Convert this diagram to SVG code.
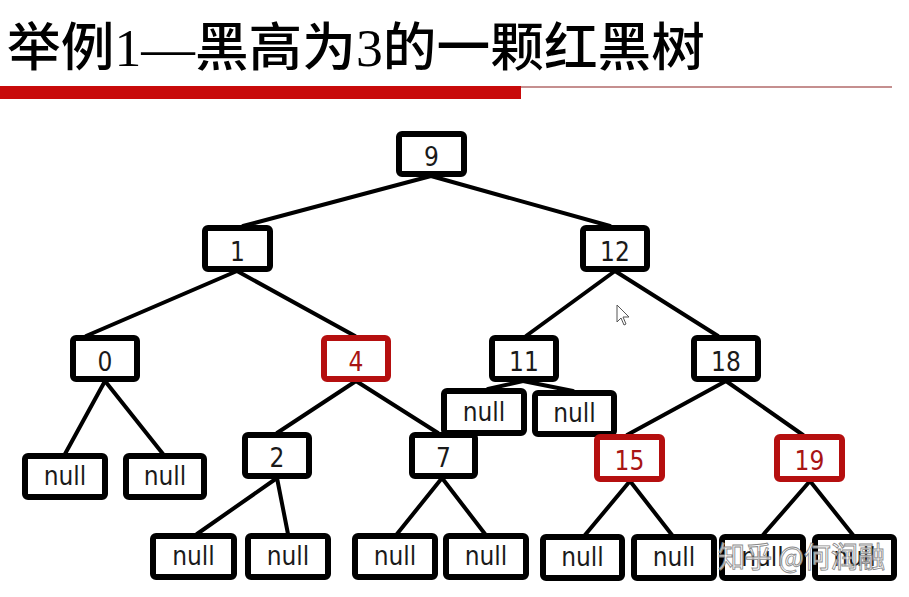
<svg xmlns="http://www.w3.org/2000/svg" width="909" height="597" viewBox="0 0 909 597">
<style>
.b{fill:#fff;stroke:#000;stroke-width:6}
.r{fill:#fff;stroke:#b50f0f;stroke-width:6}
.t{font-family:"DejaVu Sans Condensed","DejaVu Sans",sans-serif;font-size:26px;fill:#1a1a1a;text-anchor:middle}
.tr{fill:#a81414}
.e line{stroke:#000;stroke-width:4;stroke-linecap:round}
</style>
<rect width="909" height="597" fill="#fff"/>
<g id="title">
<text x="7" y="66" font-family="'Liberation Serif','Noto Sans CJK SC',serif" font-size="52" font-weight="500" fill="#000" textLength="698" lengthAdjust="spacingAndGlyphs">举例1—黑高为3的一颗红黑树</text>
<rect x="0" y="86" width="521" height="13" fill="#c80a0a"/>
<line x1="521" y1="87" x2="892" y2="87" stroke="#8b2020" stroke-width="1.2"/>
</g>
<g id="edges" class="e">
<line x1="431" y1="176" x2="243" y2="226"/>
<line x1="431" y1="176" x2="610" y2="226"/>
<line x1="237" y1="271" x2="86" y2="336"/>
<line x1="237" y1="271" x2="355" y2="336"/>
<line x1="615" y1="271" x2="526" y2="336"/>
<line x1="615" y1="271" x2="718" y2="336"/>
<line x1="105" y1="381" x2="65" y2="454"/>
<line x1="105" y1="381" x2="163" y2="454"/>
<line x1="356" y1="381" x2="277" y2="433"/>
<line x1="356" y1="381" x2="438" y2="433"/>
<line x1="523" y1="381" x2="488" y2="389"/>
<line x1="523" y1="381" x2="573" y2="391"/>
<line x1="726" y1="381" x2="627" y2="435"/>
<line x1="726" y1="381" x2="803" y2="435"/>
<line x1="277" y1="478" x2="197" y2="534"/>
<line x1="277" y1="478" x2="288" y2="534"/>
<line x1="442" y1="478" x2="397" y2="534"/>
<line x1="442" y1="478" x2="485" y2="534"/>
<line x1="630" y1="481" x2="585" y2="535"/>
<line x1="630" y1="481" x2="672" y2="535"/>
<line x1="810" y1="481" x2="763" y2="535"/>
<line x1="810" y1="481" x2="853" y2="535"/>
</g>
<g id="n9"><rect class="b" x="399" y="134" width="65" height="40" rx="3"/><text class="t" x="431.5" y="166">9</text></g>
<g id="n1"><rect class="b" x="205" y="228" width="65" height="41" rx="3"/><text class="t" x="237.5" y="261">1</text></g>
<g id="n12"><rect class="b" x="583" y="228" width="64" height="41" rx="3"/><text class="t" x="615" y="261">12</text></g>
<g id="n0"><rect class="b" x="73" y="338" width="64" height="41" rx="3"/><text class="t" x="105" y="371">0</text></g>
<g id="n4"><rect class="r" x="324" y="338" width="64" height="41" rx="3"/><text class="t tr" x="356" y="371">4</text></g>
<g id="n11"><rect class="b" x="492" y="338" width="64" height="41" rx="3"/><text class="t" x="524" y="371">11</text></g>
<g id="n18"><rect class="b" x="694" y="338" width="64" height="41" rx="3"/><text class="t" x="726" y="371">18</text></g>
<g id="null-11L"><rect class="b" x="444" y="391" width="80" height="42" rx="3"/><text class="t" x="484" y="421">null</text></g>
<g id="null-11R"><rect class="b" x="535" y="393" width="79" height="41" rx="3"/><text class="t" x="574.5" y="422">null</text></g>
<g id="n2"><rect class="b" x="245" y="435" width="64" height="41" rx="3"/><text class="t" x="277" y="467">2</text></g>
<g id="n7"><rect class="b" x="412" y="435" width="63" height="41" rx="3"/><text class="t" x="443.5" y="467">7</text></g>
<g id="n15"><rect class="r" x="597" y="437" width="65" height="42" rx="3"/><text class="t tr" x="629.5" y="470">15</text></g>
<g id="n19"><rect class="r" x="777" y="437" width="65" height="42" rx="3"/><text class="t tr" x="809.5" y="470">19</text></g>
<g id="null-0L"><rect class="b" x="25" y="456" width="80" height="41" rx="3"/><text class="t" x="65" y="485">null</text></g>
<g id="null-0R"><rect class="b" x="126" y="456" width="78" height="41" rx="3"/><text class="t" x="165" y="485">null</text></g>
<g id="null-2L"><rect class="b" x="153" y="536" width="81" height="41" rx="3"/><text class="t" x="193.5" y="565">null</text></g>
<g id="null-2R"><rect class="b" x="248" y="536" width="80" height="41" rx="3"/><text class="t" x="288" y="565">null</text></g>
<g id="null-7L"><rect class="b" x="355" y="536" width="80" height="41" rx="3"/><text class="t" x="395" y="565">null</text></g>
<g id="null-7R"><rect class="b" x="446" y="536" width="80" height="41" rx="3"/><text class="t" x="486" y="565">null</text></g>
<g id="null-15L"><rect class="b" x="543" y="537" width="79" height="41" rx="3"/><text class="t" x="582.5" y="566">null</text></g>
<g id="null-15R"><rect class="b" x="634" y="537" width="80" height="41" rx="3"/><text class="t" x="674" y="566">null</text></g>
<g id="null-19L"><rect class="b" x="722" y="537" width="81" height="41" rx="3"/><text class="t" x="762.5" y="566">null</text></g>
<g id="null-19R"><rect class="b" x="815" y="537" width="79" height="41" rx="3"/><text class="t" x="854.5" y="566">null</text></g>
<g id="cursor"><path d="M617,305 L617,322 L621,318 L624,325 L626,324 L623,317 L629,317 Z" fill="#fff" stroke="#555" stroke-width="1"/></g>
<g id="watermark"><text x="718" y="568" font-family="'Noto Sans CJK SC',sans-serif" font-size="29" fill="#fff" fill-opacity="0.75" stroke="#8a8a8a" stroke-width="0.9" textLength="167" lengthAdjust="spacingAndGlyphs">知乎 @何润融</text></g>
</svg>
